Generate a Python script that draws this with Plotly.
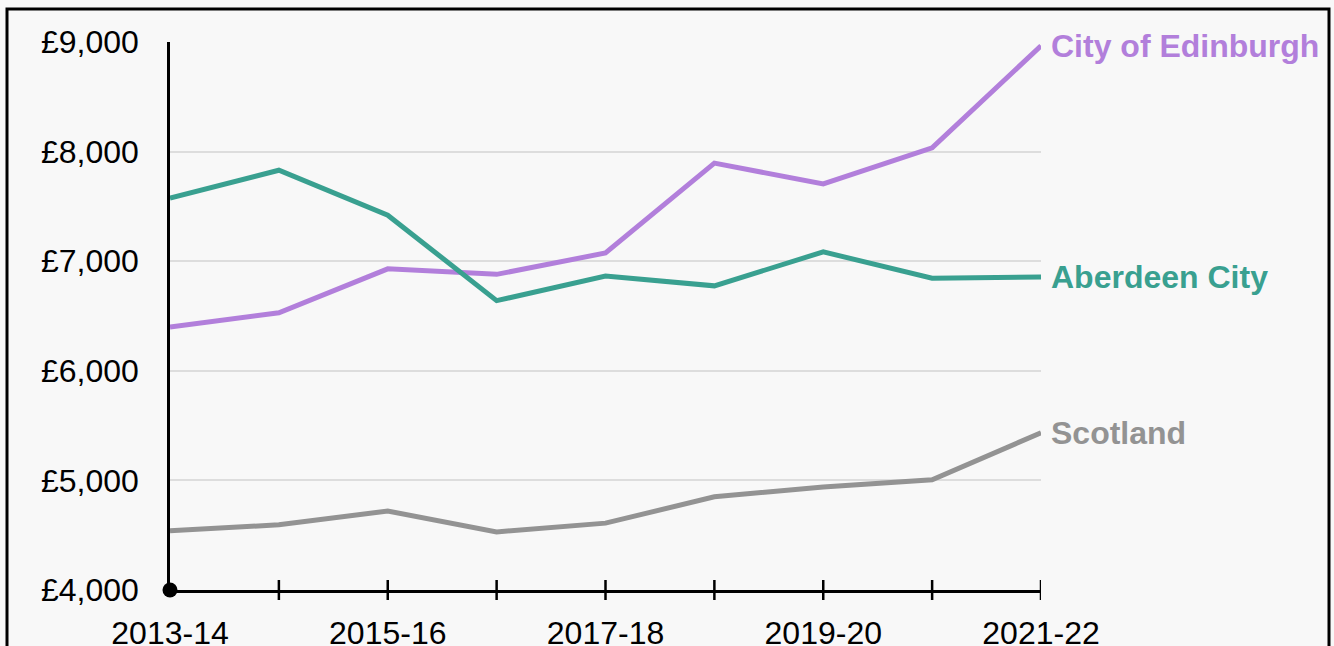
import plotly.graph_objects as go

years = ["2013-14", "2014-15", "2015-16", "2016-17", "2017-18",
         "2018-19", "2019-20", "2020-21", "2021-22"]
edinburgh = [6400, 6530, 6930, 6880, 7075, 7895, 7705, 8035, 8965]
aberdeen = [7575, 7830, 7420, 6640, 6865, 6775, 7085, 6845, 6855]
scotland = [4540, 4595, 4720, 4530, 4610, 4850, 4940, 5005, 5435]

series = [
    ("City of Edinburgh", edinburgh, "#b27fdb"),
    ("Aberdeen City", aberdeen, "#39a090"),
    ("Scotland", scotland, "#939393"),
]

y_ticks = [4000, 5000, 6000, 7000, 8000, 9000]
y_tick_text = [f"£{v:,}" for v in y_ticks]

W, H = 1334, 646
ML, MR, MT, MB = 170, 293, 42, 56
FONT = "Liberation Sans, Arial, sans-serif"
BG = "#f8f8f8"

xs = list(range(len(years)))
fig = go.Figure()

for name, vals, color in series:
    fig.add_trace(go.Scatter(
        x=xs, y=vals, mode="lines", name=name,
        line=dict(color=color, width=5),
        cliponaxis=False, hoverinfo="skip",
    ))
    fig.add_annotation(
        x=xs[-1], y=vals[-1], text=f"<b>{name}</b>",
        xanchor="left", yanchor="middle", xshift=8, showarrow=False,
        font=dict(family=FONT, size=32, color=color),
    )

# origin dot where the axes meet
fig.add_trace(go.Scatter(
    x=[xs[0]], y=[y_ticks[0]], mode="markers",
    marker=dict(color="black", size=15),
    cliponaxis=False, hoverinfo="skip", showlegend=False,
))

# tick marks crossing the x axis line
plot_h = H - MT - MB
tick_half = 10 / plot_h
for x in xs[1:]:
    fig.add_shape(type="line", xref="x", yref="paper",
                  x0=x, x1=x, y0=-tick_half, y1=tick_half,
                  line=dict(color="black", width=2.5))

# outer frame
plot_w = W - ML - MR
fig.add_shape(type="rect", xref="paper", yref="paper",
              x0=(7 - ML) / plot_w, x1=(1329 - ML) / plot_w,
              y0=(H - MB - 680) / plot_h, y1=(H - MB - 9) / plot_h,
              line=dict(color="black", width=3), fillcolor="rgba(0,0,0,0)",
              layer="below")

fig.update_layout(
    width=W, height=H,
    margin=dict(l=ML, r=MR, t=MT, b=MB, autoexpand=False),
    paper_bgcolor=BG, plot_bgcolor=BG,
    showlegend=False,
    font=dict(family=FONT, size=32, color="black"),
    xaxis=dict(
        range=[0, len(years) - 1], automargin=False,
        tickmode="array", tickvals=xs,
        ticktext=[y if i % 2 == 0 else "" for i, y in enumerate(years)],
        showgrid=False, zeroline=False,
        showline=True, linecolor="black", linewidth=2.5,
        ticks="", ticklabelstandoff=13,
        tickfont=dict(family=FONT, size=32, color="black"),
    ),
    yaxis=dict(
        range=[4000, 9000], automargin=False,
        tickmode="array", tickvals=y_ticks, ticktext=y_tick_text,
        showgrid=True, gridcolor="#dddddd", gridwidth=1.5,
        zeroline=False,
        showline=True, linecolor="black", linewidth=2.5,
        ticks="", ticklabelstandoff=22,
        tickfont=dict(family=FONT, size=32, color="black"),
    ),
)

fig.write_html("out.html")
